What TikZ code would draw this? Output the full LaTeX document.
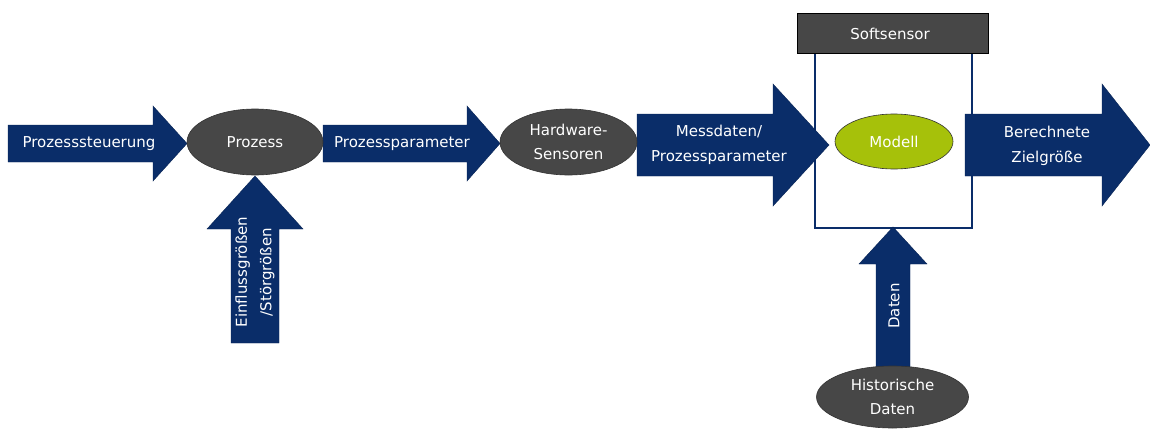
\documentclass[tikz,border=0pt]{standalone}
\usepackage{fontspec}
\setmainfont{DejaVu Sans}
\usetikzlibrary{shapes.geometric}
\definecolor{navy}{RGB}{10,45,105}
\definecolor{darkgray}{RGB}{71,71,71}
\definecolor{lime}{RGB}{166,193,10}
\newcommand\harrow[6]{% x0, xhead, xtip, ycenter, shaft half, head half
  \fill[arrowshape] (#1,#4-#5) -- (#2,#4-#5) -- (#2,#4-#6) -- (#3,#4) -- (#2,#4+#6) -- (#2,#4+#5) -- (#1,#4+#5) -- cycle;}
\newcommand\varrow[6]{% y0 (bottom), yhead, ytip, xcenter, shaft half, head half
  \fill[arrowshape] (#4-#5,#1) -- (#4-#5,#2) -- (#4-#6,#2) -- (#4,#3) -- (#4+#6,#2) -- (#4+#5,#2) -- (#4+#5,#1) -- cycle;}
\begin{document}
\begin{tikzpicture}[x=1pt,y=-1pt,
  arrowshape/.style={fill=navy,draw=navy!80!black,line width=0.4pt},
  lbl/.style={text=white,font=\fontsize{15}{24.5}\selectfont,align=center,inner sep=0pt},
  oval/.style={ellipse,fill=darkgray,draw=black!80,line width=0.6pt,inner sep=0pt},
]
\useasboundingbox (0,0) rectangle (1150,428);
% Softsensor box
\draw[navy,line width=2pt] (815,53) rectangle (972,228);
\node[draw=black,line width=0.6pt,fill=darkgray,minimum width=191pt,minimum height=40pt,inner sep=0pt,anchor=north west] (soft) at (797,13) {};
\node[lbl] (softlbl) at (890,34) {Softsensor};
% arrows
\harrow{8}{153}{187}{143.5}{18.5}{37.5}
\harrow{323}{467}{500}{143.5}{18.5}{37.5}
\harrow{637}{773}{829}{145}{31}{61}
\harrow{965}{1102}{1150}{145}{31}{61}
\varrow{343}{229}{176}{255}{24}{48}
\varrow{372}{264}{227}{893}{17}{34}
% ellipses
\node[oval,minimum width=136pt,minimum height=66pt] (prozess) at (255,142) {};
\node[oval,minimum width=137pt,minimum height=66pt] (hw) at (568.5,142) {};
\node[ellipse,fill=lime,draw=black!80,line width=0.6pt,minimum width=118pt,minimum height=55pt] (modell) at (894,141.5) {};
\node[oval,minimum width=152pt,minimum height=62pt] (hist) at (892.5,397) {};
% labels
\node[lbl] (l1) at (89,144) {Prozesssteuerung};
\node[lbl] at (prozess) {Prozess};
\node[lbl] (l2) at (402,144) {Prozessparameter};
\node[lbl] at (hw) {Hardware-\\Sensoren};
\node[lbl] (l3) at (719,145) {Messdaten/\\Prozessparameter};
\node[lbl] at (modell) {Modell};
\node[lbl] (l4) at (1047,146) {Berechnete\\Zielgröße};
\node[lbl,rotate=90] (l5) at (255,272) {Einflussgrößen\\/Störgrößen};
\node[lbl,rotate=90] (l6) at (894,306) {Daten};
\node[lbl] at (hist) {Historische\\Daten};
\end{tikzpicture}
\end{document}
